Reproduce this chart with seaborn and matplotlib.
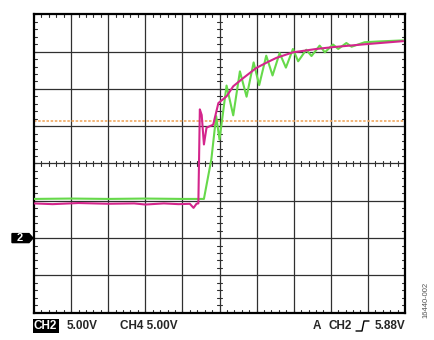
import numpy as np
import pandas as pd
import matplotlib
matplotlib.use('Agg')
import matplotlib.pyplot as plt
from matplotlib.lines import Line2D
from matplotlib.patches import Polygon
import seaborn as sns

# --- DATA (screen divisions: x 0..10, y -4..4) ---
ch4_t = [0.00, 0.50, 1.20, 2.00, 2.70, 3.00, 3.50, 3.90, 4.20, 4.30, 4.38, 4.43, 4.47, 4.52,
         4.58, 4.65, 4.83, 4.97, 5.19, 5.37, 5.64, 5.99, 6.26, 6.53, 6.98, 7.61, 8.06, 8.96, 9.95]
ch4_v = [-1.07, -1.09, -1.06, -1.08, -1.07, -1.10, -1.07, -1.09, -1.08, -1.19, -1.08, -1.07, 1.45, 1.30,
         0.51, 0.96, 1.04, 1.62, 1.80, 2.07, 2.29, 2.56, 2.70, 2.83, 2.98, 3.07, 3.12, 3.20, 3.28]

ch2_t = [0.00, 1.00, 2.00, 3.00, 4.00, 4.58, 4.78, 4.91, 5.00, 5.19, 5.37, 5.55, 5.73, 5.92, 6.07,
         6.26, 6.43, 6.62, 6.79, 6.98, 7.12, 7.34, 7.48, 7.70, 7.84, 8.06, 8.20, 8.42, 8.56, 8.91, 9.27, 9.95]
ch2_v = [-0.95, -0.94, -0.95, -0.94, -0.95, -0.95, 0.11, 1.27, 0.64, 2.09, 1.29, 2.47, 1.79, 2.71, 2.10,
         2.89, 2.36, 2.96, 2.57, 3.07, 2.74, 3.05, 2.88, 3.16, 2.98, 3.19, 3.07, 3.23, 3.13, 3.25, 3.27, 3.30]

trig_level = 1.15
ch2_ground = -2

df4 = pd.DataFrame({'t': ch4_t, 'v': ch4_v})
df2 = pd.DataFrame({'t': ch2_t, 'v': ch2_v})

# --- FIGURE ---
sns.set_style("white")
plt.rcParams['font.family'] = ['Liberation Sans', 'DejaVu Sans']

fig = plt.figure(figsize=(4.35, 3.4), dpi=100)
ax = fig.add_axes([0.0782, 0.0803, 0.8528, 0.8777])

grid_col = '#303030'
for gx in range(1, 10):
    ax.axvline(gx, color=grid_col, lw=0.9, zorder=1)
for gy in range(-3, 4):
    ax.axhline(gy, color=grid_col, lw=0.9, zorder=1)

# minor ticks along frame and center lines
tk = 0.07
for m in np.arange(0, 10.01, 0.2):
    ax.plot([m, m], [4, 4 - tk * 1.1], color=grid_col, lw=0.8, zorder=1)
    ax.plot([m, m], [-4, -4 + tk * 1.1], color=grid_col, lw=0.8, zorder=1)
    ax.plot([m, m], [-tk, tk], color=grid_col, lw=0.8, zorder=1)
for m in np.arange(-4, 4.01, 0.2):
    ax.plot([0, tk * 1.3], [m, m], color=grid_col, lw=0.8, zorder=1)
    ax.plot([10, 10 - tk * 1.3], [m, m], color=grid_col, lw=0.8, zorder=1)
    ax.plot([5 - tk, 5 + tk], [m, m], color=grid_col, lw=0.8, zorder=1)

ax.axhline(trig_level, color='#f0a860', lw=1.2, ls=(0, (1.5, 1)), zorder=2)

sns.lineplot(data=df2, x='t', y='v', color='#66d94a', lw=1.5, ax=ax, zorder=3)
sns.lineplot(data=df4, x='t', y='v', color='#d4258c', lw=1.5, ax=ax, zorder=4)

ax.set_xlim(0, 10)
ax.set_ylim(-4, 4)
ax.set_xticks([])
ax.set_yticks([])
ax.set_xlabel('')
ax.set_ylabel('')
for s in ax.spines.values():
    s.set_color('black')
    s.set_linewidth(1.6)

# channel 2 ground marker
fx0 = 12 / 435
ymark = 0.0803 + 0.8777 * (ch2_ground + 4) / 8
hh = 9 / 340
fig.patches.append(Polygon([[fx0, ymark - hh / 2], [29 / 435, ymark - hh / 2], [33 / 435, ymark],
                            [29 / 435, ymark + hh / 2], [fx0, ymark + hh / 2]],
                           closed=True, transform=fig.transFigure, color='black'))
fig.text(20 / 435, ymark, '2', color='white', fontsize=8, fontweight='bold', ha='center', va='center')

# bottom readout
ty = 1 - 326 / 340
fs = 8.5
fig.text(34 / 435, ty, 'CH2', color='white', fontsize=fs, fontweight='bold', va='center',
         bbox=dict(boxstyle='square,pad=0.1', fc='black', ec='none'))
fig.text(67 / 435, ty, '5.00V', fontsize=fs, fontweight='bold', va='center')
fig.text(120 / 435, ty, 'CH4 5.00V', fontsize=fs, fontweight='bold', va='center')
fig.text(313 / 435, ty, 'A', fontsize=fs, fontweight='bold', va='center')
fig.text(329 / 435, ty, 'CH2', fontsize=fs, fontweight='bold', va='center')
# rising-edge trigger symbol
ex = [356, 362, 364, 369]
ey = [331, 331, 321, 321]
fig.lines.append(Line2D([e / 435 for e in ex], [1 - e / 340 for e in ey],
                        transform=fig.transFigure, color='black', lw=1.0))
fig.text(375 / 435, ty, '5.88V', fontsize=fs, fontweight='bold', va='center')

fig.text(426 / 435, 1 - 300 / 340, '16440-002', rotation=90, fontsize=5.5, color='#555555',
         ha='center', va='center')

plt.savefig('out.png', dpi=100)
plt.close()
